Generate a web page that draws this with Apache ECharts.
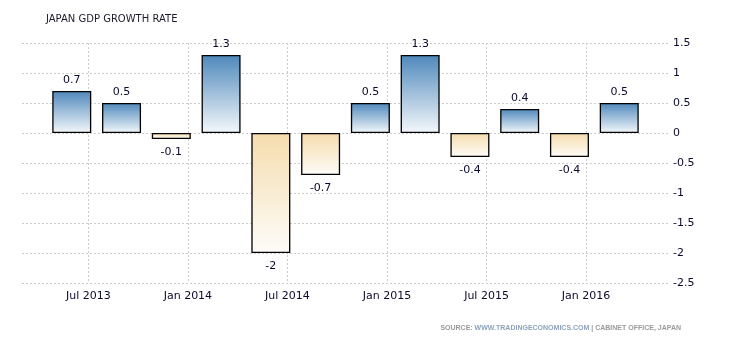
<!DOCTYPE html>
<html>
<head>
<meta charset="utf-8">
<script src="https://cdn.jsdelivr.net/npm/echarts@6/dist/echarts.min.js"></script>
<style>
html,body{margin:0;padding:0;background:#fff;}
#c{width:730px;height:340px;}
</style>
</head>
<body>
<div id="c"></div>
<script>
// Quarterly GDP growth (QoQ %), plotted at the last month of each quarter
var quarters = ["2013-06","2013-09","2013-12","2014-03","2014-06","2014-09","2014-12","2015-03","2015-06","2015-09","2015-12","2016-03"];
var values = [0.7, 0.5, -0.1, 1.3, -2, -0.7, 0.5, 1.3, -0.4, 0.4, -0.4, 0.5];
var xStart = [2013, 3];   // axis starts at Mar 2013
var xEnd = [2016, 6];     // axis ends at Jun 2016
var monthNames = ["Jan","Feb","Mar","Apr","May","Jun","Jul","Aug","Sep","Oct","Nov","Dec"];
var yTicks = {min: -2.5, max: 1.5, interval: 0.5};

var months = [];
for (var y = xStart[0], m = xStart[1]; y < xEnd[0] || (y === xEnd[0] && m <= xEnd[1]); ) {
  months.push(y + "-" + (m < 10 ? "0" + m : "" + m));
  m++; if (m > 12) { m = 1; y++; }
}
var lookup = {};
quarters.forEach(function (q, i) { lookup[q] = values[i]; });

var blueGrad = new echarts.graphic.LinearGradient(0, 0, 0, 1, [
  {offset: 0, color: '#4f88bb'}, {offset: 1, color: '#f4f8fb'}]);
var orangeGrad = new echarts.graphic.LinearGradient(0, 0, 0, 1, [
  {offset: 0, color: '#f5dcad'}, {offset: 1, color: '#fefcf9'}]);

var data = months.map(function (mo) {
  if (lookup[mo] === undefined) return '-';
  var v = lookup[mo];
  return {
    value: v,
    itemStyle: {color: v >= 0 ? blueGrad : orangeGrad},
    label: {position: v >= 0 ? 'top' : 'bottom', distance: v >= 0 ? 5 : 8}
  };
});

function isMajor(idx) {
  var mm = parseInt(months[idx].slice(5), 10);
  return mm === 1 || mm === 7;
}

var chart = echarts.init(document.getElementById('c'), null, {renderer: 'canvas'});
chart.setOption({
  animation: false,
  backgroundColor: '#fff',
  textStyle: {fontFamily: 'DejaVu Sans'},
  title: [{
    text: 'JAPAN GDP GROWTH RATE',
    left: 41, top: 9,
    textStyle: {fontSize: 10, fontWeight: 'normal', color: '#1a1a2a', fontFamily: 'DejaVu Sans'}
  }, {
    text: '{a|SOURCE: }{b|WWW.TRADINGECONOMICS.COM}{a| | CABINET OFFICE, JAPAN}',
    right: 44, top: 320,
    textStyle: {
      rich: {
        a: {fontSize: 7, color: '#9a9a9a', fontFamily: 'Liberation Sans'},
        b: {fontSize: 7, color: '#8ea2bb', fontFamily: 'Liberation Sans'}
      }
    }
  }],
  grid: {left: 22, right: 61, top: 43, bottom: 57, containLabel: false},
  xAxis: {
    type: 'category',
    data: months,
    boundaryGap: false,
    axisLine: {show: false},
    axisTick: {show: false},
    axisLabel: {
      interval: function (idx) { return isMajor(idx); },
      formatter: function (v) {
        var mm = parseInt(v.slice(5), 10);
        return monthNames[mm - 1] + ' ' + v.slice(0, 4);
      },
      color: '#0a0a2a', fontSize: 11, margin: 8, fontFamily: 'DejaVu Sans'
    },
    splitLine: {
      show: true,
      interval: function (idx) { return isMajor(idx); },
      lineStyle: {color: '#cccccc', type: [2, 2], width: 1}
    }
  },
  yAxis: {
    type: 'value',
    position: 'right',
    min: yTicks.min, max: yTicks.max, interval: yTicks.interval,
    axisLine: {show: false},
    axisTick: {show: false},
    axisLabel: {color: '#0a0a2a', fontSize: 11, margin: 4, fontFamily: 'DejaVu Sans'},
    splitLine: {lineStyle: {color: '#cccccc', type: [2, 2], width: 1}}
  },
  series: [{
    type: 'bar',
    data: data,
    barWidth: 39,
    itemStyle: {borderColor: '#000', borderWidth: 1.3},
    label: {
      show: true,
      color: '#0a0a2a', fontSize: 11, fontFamily: 'DejaVu Sans'
    }
  }]
});
</script>
</body>
</html>
